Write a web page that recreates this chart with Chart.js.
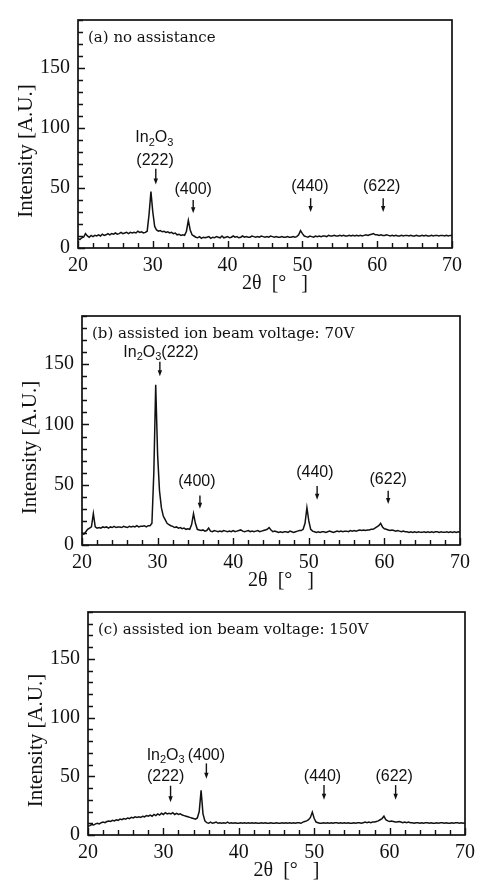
<!DOCTYPE html>
<html><head><meta charset="utf-8">
<script src="https://cdn.jsdelivr.net/npm/chart.js@4.4.1/dist/chart.umd.min.js"></script>
<style>
html,body{margin:0;padding:0;background:#fff;}
body{width:481px;height:888px;position:relative;overflow:hidden;}
canvas{position:absolute;left:0;}
</style>
</head><body>
<canvas id="ca" width="481" height="296" style="top:0px"></canvas>
<canvas id="cb" width="481" height="296" style="top:296px"></canvas>
<canvas id="cc" width="481" height="296" style="top:592px"></canvas>
<script>
// 2θ grid (degrees): 20 → 70 in 0.25° steps
const twoThetaStart = 20, twoThetaStep = 0.25;

// (a) no assistance
const intensityA = [
 8,7,8.5,9, 12,10,9,10.5, 9.5,10.5,10,11, 10,11.5,10.5,11, 12,11,12,11.5,
 12.5,11.5,12,13, 12,12.5,13,12, 13,12.5,13,12.5, 14,13,13.5,12.5, 13,14,28,47,
 30,18,15,14, 14.5,13.5,14,13, 13.5,12.5,13,12, 12.5,11,11.5,10.5, 11,10.5,14,23,
 15,11,10,9, 8.5,9.5,8,9, 8.5,9,9.5,8, 9,8.5,9.5,9, 8.5,10,8.5,9,
 9.5,8.5,9,10, 9,9.5,8.5,9, 10,9,9.5,9, 9,10,9.5,9, 9.5,9,10,9.5,
 9,9.5,9,10, 9.5,9,9.5,9, 9,9.5,9,9, 9.5,9,9,9.5, 9,9.5,11,14.5,
 12,10,9.5,9, 10,9.5,9,10, 9.5,10,9.5,10, 10,9.5,10.5,10, 10,10.5,10,10,
 10.5,10,10.5,10, 10,10.5,10,10.5, 10,10.5,10,10.5, 10,10.5,11,10.5, 11,11.5,12,11,
 11,10.5,11,10.5, 10.5,11,10.5,10, 10.5,10,10.5,10, 10,10.5,10,10.5, 10.5,10,10.5,10,
 10,10.5,10,10, 10.5,10,10.5,10, 10,10.5,10,10.5, 10.5,10,10.5,10.5, 10,10.5,10,10.5,
 10.5
];

// (b) assisted ion beam voltage: 70V
const intensityB = [
 10.5,9,11,13, 14,15,26,15, 14,14.5,14,15, 14.5,15,14,15, 14.5,15.5,14.5,15,
 15,14.5,15.5,15, 14.5,15.5,15,15.5, 15,16,15,15.5, 15.5,16,15,16, 16,18,60,133,
 75,45,31,24, 21,18,17,16, 15.5,14.5,15,14, 14.5,13.5,14,13, 13.5,13,17,26,
 18,13,12.5,12, 12.5,11.5,12,14, 11.5,11,12,11.5, 11,11.5,11,12, 11.5,11,11.5,11,
 12,11,11.5,12, 12.5,11.5,11,11.5, 12,11,11.5,11, 11.5,12,11,11.5, 12,12.5,13,14.5,
 12.5,11,11.5,11, 10.5,11,10.5,11, 11,10.5,11.5,11, 10.5,11,11.5,12, 12,13,18,31,
 20,13,11.5,11, 10.5,11,10.5,11, 11,10.5,11,11.5, 11,10.5,11,11.5, 11,11.5,11,11.5,
 11.5,11,12,11.5, 12,11.5,12,12.5, 12,12.5,12,12.5, 12.5,13,13,14, 15,16,18,15,
 13.5,13,12.5,12, 12.5,12,11.5,12, 11.5,11,11.5,11, 11,10.5,11,10.5, 11,10.5,11,10.5,
 10.5,11,10.5,11, 10.5,11,10.5,11, 11,10.5,11,10.5, 10.5,11,10.5,11, 10.5,11,10.5,11,
 10.5
];

// (c) assisted ion beam voltage: 150V
const intensityC = [
 7.5,8,9,8.5, 9.5,10,9.5,10.5, 11,10.5,11.5,12, 11.5,12.5,12,13, 12.5,13.5,13,14,
 13.5,14.5,14,15, 14.5,15.5,15,15.5, 15,16,15.5,16.5, 16,17,16,17.5, 16.5,18,17,18.5,
 17.5,19,18,18.5, 18,19,17.5,18.5, 17.5,18,17,16.5, 16,15.5,15,14.5, 14,13.5,14.5,20,
 38,18,12,10.5, 10,11,10,10.5, 11,10,10.5,10, 10.5,10,11,10, 10.5,10,10.5,10,
 10,10.5,10,10.5, 10,10.5,10,10.5, 10,10.5,10,10, 10.5,10,10.5,10, 10,10.5,10,10,
 10.5,10,10,10.5, 10,10.5,10,10.5, 10,10.5,10,10.5, 10.5,10,11,11.5, 12,13,15,19.5,
 14,11,10.5,10, 10,10.5,10,10.5, 10,10.5,10,10.5, 10.5,10,10.5,10, 10.5,10,10.5,10,
 10,10.5,10,10.5, 10.5,10,10.5,11, 10.5,11,10.5,11, 11,11.5,12,13, 14,16,13,12,
 11.5,12,11.5,11, 11,11.5,11,10.5, 11,10.5,11,10.5, 10.5,10,10.5,10.5, 10,10.5,10,10.5,
 10.5,10,10.5,10, 10,10.5,10,10.5, 10.5,10,10.5,10, 10,10.5,10,10.5, 10.5,10,10.5,10,
 10.5
];

const xTickLabels = [20, 30, 40, 50, 60, 70];
const yTickLabels = [0, 50, 100, 150];
const panelTitles = ['(a) no assistance', '(b) assisted ion beam voltage: 70V', '(c) assisted ion beam voltage: 150V'];
const xAxisTitle = '2θ  [°   ]';
const yAxisTitle = 'Intensity [A.U.]';

// peak annotations (text parts: [string, isSubscript]); positions in data units
const notesA = {
  labels: [
    {parts:[['In',0],['2',1],['O',0],['3',1]], x:30.2, y:92},
    {parts:[['(222)',0]], x:30.3, y:73},
    {parts:[['(400)',0]], x:35.4, y:49},
    {parts:[['(440)',0]], x:51.0, y:51},
    {parts:[['(622)',0]], x:60.6, y:51}
  ],
  arrows: [{x:30.4, y1:66, y2:53}, {x:35.4, y1:40, y2:29}, {x:51.1, y1:41.5, y2:30}, {x:60.8, y1:41.5, y2:30}]
};
const notesB = {
  labels: [
    {parts:[['In',0],['2',1],['O',0],['3',1],['(222)',0]], x:30.45, y:160},
    {parts:[['(400)',0]], x:35.2, y:53},
    {parts:[['(440)',0]], x:50.8, y:60},
    {parts:[['(622)',0]], x:60.5, y:54}
  ],
  arrows: [{x:30.3, y1:152, y2:140}, {x:35.6, y1:41, y2:30}, {x:51.1, y1:49, y2:37.5}, {x:60.5, y1:45, y2:34}]
};
const notesC = {
  labels: [
    {parts:[['In',0],['2',1],['O',0],['3',1]], x:30.3, y:68},
    {parts:[['(400)',0]], x:35.7, y:68},
    {parts:[['(222)',0]], x:30.3, y:50},
    {parts:[['(440)',0]], x:51.1, y:50},
    {parts:[['(622)',0]], x:60.6, y:50}
  ],
  arrows: [{x:30.95, y1:42, y2:28}, {x:35.7, y1:61, y2:48}, {x:51.3, y1:42.5, y2:30}, {x:60.8, y1:42.5, y2:30}]
};

const INK = '#111';
const SERIF = '"Liberation Serif", "Times New Roman", serif';
const TITLE_SERIF = '"DejaVu Serif", serif';
const SANS = '"Liberation Sans", Arial, sans-serif';

function drawRich(ctx, parts, cx, cy) {
  const big = '16px ' + SANS, small = '11px ' + SANS;
  let w = 0;
  parts.forEach(([s, sub]) => { ctx.font = sub ? small : big; w += ctx.measureText(s).width; });
  let x = cx - w / 2;
  ctx.textAlign = 'left'; ctx.textBaseline = 'middle';
  parts.forEach(([s, sub]) => {
    ctx.font = sub ? small : big;
    ctx.fillText(s, x, sub ? cy + 5 : cy);
    x += ctx.measureText(s).width;
  });
}

function makeDecor(title, notes) {
  return {
    id: 'decor',
    afterDraw(chart) {
      const {ctx, chartArea: a, scales: {x, y}} = chart;
      ctx.save();
      ctx.strokeStyle = INK; ctx.fillStyle = INK;
      ctx.lineWidth = 1.7;
      ctx.strokeRect(a.left, a.top, a.right - a.left, a.bottom - a.top);
      ctx.lineWidth = 1.4;
      ctx.beginPath();
      x.ticks.forEach(t => {
        const px = Math.round(x.getPixelForValue(t.value)) + 0.5;
        const len = t.value % 10 === 0 ? 7 : 5;
        ctx.moveTo(px, a.bottom); ctx.lineTo(px, a.bottom - len);
      });
      y.ticks.forEach(t => {
        const py = Math.round(y.getPixelForValue(t.value)) + 0.5;
        const len = t.value % 50 === 0 ? 7 : 5;
        ctx.moveTo(a.left, py); ctx.lineTo(a.left + len, py);
      });
      ctx.stroke();
      // panel title
      ctx.font = '15px ' + TITLE_SERIF;
      ctx.textAlign = 'left'; ctx.textBaseline = 'middle';
      ctx.fillText(title, a.left + 10, a.top + 18);
      // axis titles
      ctx.font = '20px ' + SERIF;
      ctx.textAlign = 'center';
      ctx.fillText(xAxisTitle, (a.left + a.right) / 2 + 10, a.bottom + 36);
      ctx.save();
      ctx.translate(a.left - 52, (a.top + a.bottom) / 2 + 17);
      ctx.rotate(-Math.PI / 2);
      ctx.font = '21px ' + SERIF;
      ctx.fillText(yAxisTitle, 0, 0);
      ctx.restore();
      // annotations
      notes.labels.forEach(l => drawRich(ctx, l.parts, x.getPixelForValue(l.x), y.getPixelForValue(l.y)));
      ctx.lineWidth = 1.4;
      notes.arrows.forEach(ar => {
        const px = x.getPixelForValue(ar.x);
        const p1 = y.getPixelForValue(ar.y1), p2 = y.getPixelForValue(ar.y2);
        ctx.beginPath(); ctx.moveTo(px, p1); ctx.lineTo(px, p2 - 4); ctx.stroke();
        ctx.beginPath(); ctx.moveTo(px - 2.2, p2 - 6); ctx.lineTo(px + 2.2, p2 - 6); ctx.lineTo(px, p2); ctx.closePath(); ctx.fill();
      });
      ctx.restore();
    }
  };
}

function makeChart(id, values, title, notes, geo) {
  const pts = values.map((v, i) => ({x: twoThetaStart + i * twoThetaStep, y: v}));
  return new Chart(document.getElementById(id), {
    type: 'line',
    data: {datasets: [{data: pts, borderColor: INK, borderWidth: 1.5, pointRadius: 0, tension: 0, fill: false}]},
    options: {
      responsive: false, animation: false, events: [],
      layout: {padding: {left: 0, right: geo.right, top: geo.top, bottom: 0}},
      plugins: {legend: {display: false}, tooltip: {enabled: false}},
      scales: {
        x: {
          type: 'linear', min: 20, max: 70,
          grid: {display: false, drawTicks: false}, border: {display: false},
          ticks: {stepSize: 2, autoSkip: false, maxRotation: 0, padding: 6, color: INK,
            font: {family: SERIF, size: 20},
            callback: v => xTickLabels.includes(v) ? String(v) : ''},
          afterFit: s => { s.height = geo.xh; }
        },
        y: {
          type: 'linear', min: 0, max: 190,
          grid: {display: false, drawTicks: false}, border: {display: false},
          ticks: {stepSize: 10, autoSkip: false, padding: 8, color: INK,
            font: {family: SERIF, size: 20},
            callback: v => yTickLabels.includes(v) ? String(v) : ''},
          afterFit: s => { s.width = geo.yw; }
        }
      }
    },
    plugins: [makeDecor(title, notes)]
  });
}

makeChart('ca', intensityA, panelTitles[0], notesA, {top: 15, right: 29, yw: 78, xh: 48});
makeChart('cb', intensityB, panelTitles[1], notesB, {top: 7, right: 21, yw: 82, xh: 47});
makeChart('cc', intensityC, panelTitles[2], notesC, {top: 7, right: 15, yw: 88, xh: 53});
</script>
</body></html>
